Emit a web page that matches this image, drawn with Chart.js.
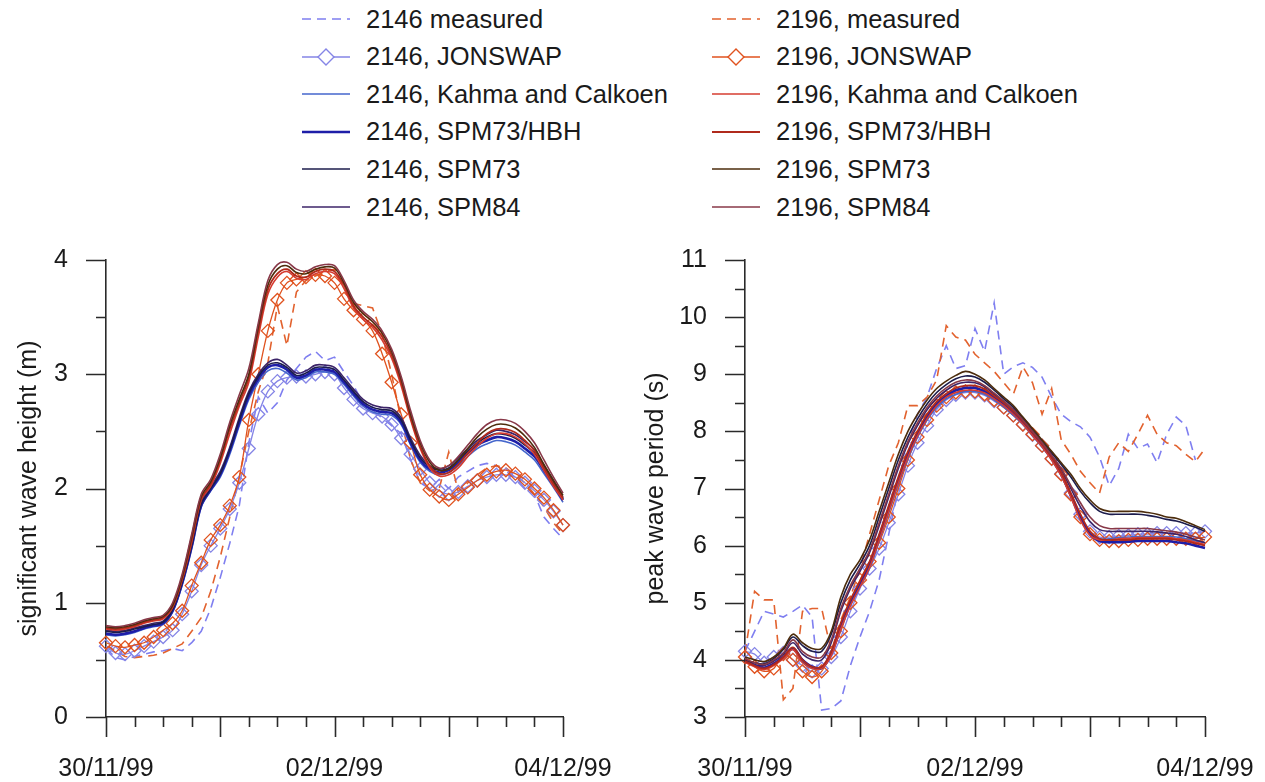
<!DOCTYPE html>
<html>
<head>
<meta charset="utf-8">
<script src="https://cdn.jsdelivr.net/npm/chart.js@4.4.0/dist/chart.umd.min.js"></script>
<style>
body{margin:0;background:#fff;width:1265px;height:782px;overflow:hidden;position:relative;font-family:"Liberation Sans",Arial,sans-serif;}
.item{position:absolute;height:38px;display:flex;align-items:center;font-size:25.5px;color:#1a1a1a;white-space:nowrap;}
.item svg{margin-right:14px;}
canvas{position:absolute;top:230px;}
#hsChart{left:0;}
#tpChart{left:630px;}
</style>
</head>
<body>
<div id="legend"></div>
<canvas id="hsChart" width="630" height="552"></canvas>
<canvas id="tpChart" width="635" height="552"></canvas>
<script>
// time axis: hours after 30/11/99 00:00
const hours = [0,2,4,6,8,10,12,14,16,18,20,22,24,26,28,30,32,34,36,38,40,42,44,46,48,
  50,52,54,56,58,60,62,64,66,68,70,72,74,76,78,80,82,84,86,88,90,92,94,96];
const dateLabels = ['30/11/99', '02/12/99', '04/12/99'];

// significant wave height (m)
const hs2146Measured = [0.6,0.52,0.5,0.53,0.55,0.57,0.58,0.6,0.58,0.65,0.75,0.95,1.22,1.52,1.85,2.4,2.8,2.66,2.75,2.95,3.05,3.15,3.2,3.12,3.15,
  3.02,2.9,2.75,2.68,2.62,2.55,2.48,2.25,2.05,2.0,2.08,2.0,2.1,2.15,2.2,2.22,2.2,2.15,2.1,2.0,1.95,1.75,1.65,1.56];
const hs2146Jonswap = [0.62,0.56,0.55,0.58,0.62,0.66,0.7,0.76,0.9,1.1,1.33,1.5,1.65,1.82,2.05,2.35,2.65,2.85,2.94,2.97,2.98,2.98,3.0,3.02,3.0,
  2.88,2.78,2.7,2.66,2.63,2.56,2.44,2.3,2.17,2.05,1.98,1.95,1.97,2.02,2.07,2.1,2.12,2.12,2.1,2.05,1.98,1.9,1.8,1.68];
const hs2146Kahma = [0.72,0.71,0.72,0.74,0.77,0.79,0.81,0.92,1.16,1.48,1.84,1.98,2.1,2.3,2.55,2.78,2.93,3.03,3.05,3.01,2.95,2.97,3.02,3.02,3.0,
  2.91,2.81,2.72,2.67,2.65,2.64,2.56,2.38,2.23,2.15,2.12,2.14,2.2,2.28,2.35,2.39,2.42,2.41,2.38,2.32,2.25,2.13,2.01,1.88];
const hs2146Hbh = [0.73,0.72,0.73,0.75,0.78,0.8,0.82,0.93,1.17,1.49,1.85,1.99,2.12,2.33,2.58,2.81,2.96,3.06,3.08,3.04,2.97,2.99,3.04,3.04,3.02,
  2.93,2.83,2.74,2.69,2.67,2.66,2.58,2.4,2.25,2.17,2.14,2.16,2.23,2.31,2.38,2.42,2.45,2.44,2.41,2.35,2.28,2.16,2.03,1.9];
const hs2146Spm73 = [0.75,0.74,0.75,0.77,0.79,0.81,0.83,0.94,1.18,1.5,1.86,2.0,2.13,2.34,2.6,2.83,2.98,3.08,3.1,3.06,2.99,3.01,3.06,3.06,3.04,
  2.95,2.85,2.76,2.71,2.69,2.68,2.6,2.42,2.27,2.19,2.16,2.18,2.25,2.33,2.4,2.45,2.48,2.47,2.44,2.38,2.31,2.18,2.05,1.91];
const hs2146Spm84 = [0.76,0.75,0.76,0.78,0.8,0.82,0.84,0.95,1.2,1.52,1.88,2.02,2.15,2.36,2.62,2.85,3.0,3.1,3.13,3.08,3.01,3.03,3.08,3.08,3.06,
  2.97,2.87,2.78,2.73,2.71,2.7,2.62,2.44,2.29,2.2,2.17,2.2,2.27,2.35,2.42,2.47,2.51,2.5,2.47,2.41,2.34,2.2,2.07,1.92];
const hs2196Measured = [0.62,0.58,0.53,0.52,0.53,0.54,0.56,0.6,0.64,0.75,0.87,1.1,1.4,1.75,2.1,2.5,2.85,3.1,3.6,3.25,3.72,3.82,3.86,3.9,3.92,
  3.75,3.62,3.6,3.58,3.35,3.0,2.6,2.25,2.05,1.98,2.0,2.32,1.97,2.05,2.12,2.18,2.2,2.18,2.12,2.05,1.95,1.84,1.7,1.6];
const hs2196Jonswap = [0.65,0.62,0.61,0.63,0.65,0.7,0.76,0.82,0.93,1.15,1.35,1.55,1.68,1.85,2.1,2.6,3.0,3.38,3.65,3.8,3.83,3.85,3.87,3.86,3.8,
  3.66,3.56,3.48,3.38,3.18,2.93,2.65,2.4,2.12,1.99,1.93,1.9,1.95,2.01,2.07,2.12,2.15,2.16,2.13,2.08,2.0,1.92,1.81,1.68];
const hs2196Kahma = [0.77,0.76,0.77,0.79,0.82,0.84,0.86,0.96,1.2,1.53,1.9,2.02,2.22,2.48,2.72,2.93,3.33,3.7,3.85,3.9,3.84,3.83,3.88,3.9,3.88,
  3.75,3.58,3.48,3.41,3.3,3.14,2.9,2.6,2.35,2.18,2.11,2.12,2.18,2.28,2.37,2.44,2.48,2.48,2.45,2.39,2.3,2.16,2.02,1.9];
const hs2196Hbh = [0.78,0.77,0.78,0.8,0.83,0.85,0.87,0.97,1.21,1.55,1.91,2.04,2.25,2.52,2.75,2.97,3.38,3.74,3.88,3.92,3.86,3.85,3.9,3.92,3.9,
  3.78,3.6,3.5,3.43,3.33,3.17,2.93,2.62,2.37,2.2,2.13,2.14,2.21,2.31,2.4,2.48,2.52,2.52,2.49,2.42,2.33,2.18,2.04,1.92];
const hs2196Spm73 = [0.79,0.78,0.79,0.81,0.84,0.86,0.88,0.98,1.23,1.58,1.93,2.06,2.27,2.55,2.78,3.0,3.42,3.78,3.92,3.95,3.89,3.88,3.92,3.94,3.93,
  3.8,3.63,3.53,3.46,3.36,3.2,2.96,2.65,2.4,2.23,2.16,2.17,2.25,2.35,2.45,2.52,2.56,2.56,2.53,2.46,2.36,2.21,2.07,1.94];
const hs2196Spm84 = [0.8,0.79,0.8,0.82,0.85,0.87,0.89,1.0,1.25,1.6,1.95,2.08,2.3,2.58,2.82,3.05,3.45,3.82,3.96,3.98,3.92,3.9,3.94,3.96,3.95,
  3.82,3.65,3.55,3.48,3.38,3.22,2.98,2.68,2.42,2.25,2.18,2.2,2.28,2.38,2.48,2.56,2.6,2.6,2.57,2.5,2.4,2.25,2.1,1.96];

// peak wave period (s)
const tp2146Measured = [4.15,4.5,4.85,4.8,4.75,4.85,4.96,4.75,3.12,3.15,3.28,3.9,4.4,4.85,5.4,6.2,7.0,7.8,8.3,8.6,9.1,9.5,9.1,9.15,9.8,
  9.4,10.25,9.0,9.13,9.2,9.12,8.95,8.6,8.3,8.17,8.08,7.9,7.55,7.05,7.35,7.95,7.7,7.78,7.45,7.95,8.25,8.1,7.5,null];
const tp2146Jonswap = [4.15,4.1,3.95,4.05,4.12,4.0,3.9,3.8,3.85,4.05,4.4,4.85,5.25,5.6,5.95,6.4,6.9,7.4,7.8,8.1,8.38,8.55,8.64,8.68,8.68,
  8.63,8.53,8.42,8.28,8.12,7.94,7.75,7.52,7.26,6.92,6.55,6.25,6.15,6.15,6.17,6.18,6.2,6.2,6.22,6.22,6.22,6.22,6.22,6.25];
const tp2146Kahma = [3.98,3.9,3.85,3.92,4.03,4.18,3.96,3.85,3.85,4.08,4.55,4.95,5.28,5.6,6.08,6.58,7.08,7.52,7.9,8.2,8.42,8.57,8.65,8.7,8.7,
  8.65,8.55,8.43,8.28,8.12,7.92,7.72,7.5,7.22,6.86,6.46,6.2,6.12,6.12,6.14,6.15,6.16,6.16,6.16,6.16,6.15,6.12,6.08,6.05];
const tp2146Hbh = [3.98,3.9,3.86,3.93,4.05,4.2,4.0,3.88,3.86,4.12,4.6,5.0,5.32,5.68,6.15,6.65,7.15,7.6,7.96,8.26,8.48,8.62,8.72,8.76,8.76,
  8.7,8.6,8.48,8.33,8.16,7.96,7.76,7.53,7.25,6.88,6.5,6.2,6.08,6.06,6.06,6.07,6.08,6.08,6.08,6.08,6.06,6.04,6.0,5.96];
const tp2146Spm73 = [4.0,3.95,3.93,4.02,4.18,4.4,4.25,4.15,4.15,4.45,5.0,5.4,5.68,6.0,6.5,7.0,7.5,7.9,8.22,8.48,8.68,8.82,8.92,8.97,8.95,
  8.86,8.72,8.57,8.42,8.22,8.02,7.82,7.62,7.42,7.2,6.95,6.75,6.6,6.55,6.55,6.55,6.55,6.53,6.5,6.46,6.43,6.38,6.32,6.25];
const tp2146Spm84 = [4.0,3.92,3.9,3.98,4.1,4.3,4.1,4.0,4.0,4.3,4.85,5.25,5.55,5.88,6.35,6.85,7.35,7.78,8.1,8.38,8.58,8.72,8.82,8.86,8.85,
  8.78,8.65,8.52,8.37,8.2,8.0,7.8,7.58,7.32,7.0,6.68,6.42,6.28,6.25,6.25,6.25,6.25,6.25,6.24,6.22,6.2,6.16,6.1,6.05];
const tp2196Measured = [4.12,5.2,5.05,5.05,3.3,3.5,4.85,4.9,4.9,4.15,4.7,5.1,5.6,6.2,6.8,7.4,7.8,8.45,8.45,8.6,8.9,9.85,9.65,9.6,9.35,
  9.2,9.05,8.85,8.65,9.13,8.85,8.3,8.75,7.85,7.6,7.3,7.1,6.92,7.55,7.8,7.65,7.95,8.28,7.95,7.8,7.75,7.6,7.47,7.7];
const tp2196Jonswap = [4.05,3.88,3.8,3.85,4.1,4.0,3.8,3.7,3.8,4.12,4.5,5.0,5.4,5.72,6.05,6.5,7.0,7.5,7.9,8.2,8.45,8.6,8.68,8.7,8.7,
  8.65,8.55,8.42,8.28,8.12,7.95,7.75,7.52,7.25,6.9,6.5,6.2,6.1,6.08,6.08,6.1,6.1,6.12,6.12,6.12,6.12,6.12,6.12,6.15];
const tp2196Kahma = [3.96,3.88,3.83,3.9,4.02,4.18,3.95,3.85,3.85,4.08,4.55,4.95,5.28,5.62,6.1,6.6,7.1,7.55,7.92,8.22,8.45,8.6,8.68,8.72,8.72,
  8.67,8.57,8.45,8.3,8.13,7.93,7.73,7.5,7.22,6.85,6.45,6.18,6.1,6.1,6.12,6.13,6.14,6.14,6.14,6.14,6.12,6.1,6.06,6.02];
const tp2196Hbh = [3.98,3.9,3.85,3.92,4.05,4.22,4.0,3.88,3.88,4.15,4.65,5.05,5.38,5.72,6.2,6.7,7.2,7.65,8.0,8.3,8.52,8.66,8.76,8.8,8.8,
  8.74,8.62,8.5,8.35,8.18,7.98,7.78,7.55,7.28,6.92,6.55,6.25,6.12,6.1,6.1,6.1,6.12,6.12,6.12,6.12,6.1,6.08,6.04,6.0];
const tp2196Spm73 = [4.05,4.0,3.97,4.05,4.2,4.45,4.3,4.2,4.2,4.5,5.1,5.5,5.75,6.1,6.6,7.1,7.6,8.0,8.3,8.55,8.75,8.88,8.98,9.05,9.0,
  8.9,8.75,8.6,8.45,8.25,8.05,7.85,7.65,7.45,7.25,7.0,6.8,6.65,6.6,6.6,6.6,6.6,6.58,6.55,6.5,6.48,6.42,6.35,6.28];
const tp2196Spm84 = [4.02,3.95,3.92,4.0,4.12,4.35,4.15,4.05,4.05,4.35,4.9,5.3,5.6,5.92,6.4,6.9,7.4,7.82,8.15,8.42,8.62,8.76,8.86,8.9,8.88,
  8.8,8.67,8.53,8.38,8.2,8.0,7.8,7.58,7.35,7.05,6.75,6.5,6.35,6.3,6.3,6.3,6.3,6.3,6.28,6.26,6.24,6.2,6.15,6.1];

const styles = [
  {key: 'm46', label: '2146 measured', color: '#7f7ff0', width: 1.6, dash: [9, 6], order: 11},
  {key: 'j46', label: '2146, JONSWAP', color: '#8585e6', width: 1.3, marker: true, order: 9},
  {key: 'k46', label: '2146, Kahma and Calkoen', color: '#4466cc', width: 1.6, order: 7},
  {key: 'h46', label: '2146, SPM73/HBH', color: '#1e1ea8', width: 2.6, order: 5},
  {key: 's46', label: '2146, SPM73', color: '#1c1c4c', width: 1.6, order: 4},
  {key: 'p46', label: '2146, SPM84', color: '#3c2468', width: 1.6, order: 6},
  {key: 'm96', label: '2196, measured', color: '#e2622e', width: 1.6, dash: [9, 6], order: 10},
  {key: 'j96', label: '2196, JONSWAP', color: '#e0521e', width: 1.3, marker: true, order: 8},
  {key: 'k96', label: '2196, Kahma and Calkoen', color: '#d63c30', width: 1.6, order: 3},
  {key: 'h96', label: '2196, SPM73/HBH', color: '#b02a1c', width: 1.8, order: 2},
  {key: 's96', label: '2196, SPM73', color: '#4c2c0c', width: 1.6, order: 1},
  {key: 'p96', label: '2196, SPM84', color: '#883848', width: 1.6, order: 0}
];

const hsData = {m46: hs2146Measured, j46: hs2146Jonswap, k46: hs2146Kahma, h46: hs2146Hbh, s46: hs2146Spm73, p46: hs2146Spm84,
  m96: hs2196Measured, j96: hs2196Jonswap, k96: hs2196Kahma, h96: hs2196Hbh, s96: hs2196Spm73, p96: hs2196Spm84};
const tpData = {m46: tp2146Measured, j46: tp2146Jonswap, k46: tp2146Kahma, h46: tp2146Hbh, s46: tp2146Spm73, p46: tp2146Spm84,
  m96: tp2196Measured, j96: tp2196Jonswap, k96: tp2196Kahma, h96: tp2196Hbh, s96: tp2196Spm73, p96: tp2196Spm84};

// legend, two columns
const legend = document.getElementById('legend');
styles.forEach((s, i) => {
	const col = i < 6 ? 0 : 1;
	const row = i % 6;
	const div = document.createElement('div');
	div.className = 'item';
	div.style.left = (col ? 710 : 300) + 'px';
	div.style.top = (row * 37.6) + 'px';
	let svg = '<svg width="52" height="22"><line x1="2" y1="11" x2="50" y2="11" stroke="' + s.color + '" stroke-width="' + s.width + '"' +
		(s.dash ? ' stroke-dasharray="9,6"' : '') + '/>';
	if (s.marker) svg += '<polygon points="26,3 34,11 26,19 18,11" fill="#fff" stroke="' + s.color + '" stroke-width="1.4"/>';
	svg += '</svg>';
	div.innerHTML = svg + '<span>' + s.label + '</span>';
	legend.appendChild(div);
});

function buildSets(source) {
	return styles.map(s => ({
		label: s.label,
		data: hours.map((h, i) => ({x: h, y: source[s.key][i]})),
		borderColor: s.color,
		borderWidth: s.width,
		borderDash: s.dash || [],
		tension: s.dash ? 0 : 0.35,
		pointStyle: 'rectRot',
		pointRadius: s.marker ? 6.5 : 0,
		pointBorderWidth: 1.3,
		pointBorderColor: s.color,
		pointBackgroundColor: 'rgba(255,255,255,0)',
		clip: s.marker ? false : 2,
		order: s.order
	}));
}

// major / minor tick marks drawn from the scales' own ticks
const tickMarks = {
	id: 'tickMarks',
	afterDraw(chart) {
		const ctx = chart.ctx, xs = chart.scales.x, ys = chart.scales.y;
		ctx.save();
		ctx.strokeStyle = '#2a2a2a';
		ctx.lineWidth = 1.6;
		ctx.beginPath();
		xs.ticks.forEach(t => {
			const px = Math.round(xs.getPixelForValue(t.value)) + 0.5;
			const len = t.value % 24 === 0 ? 20 : 10;
			ctx.moveTo(px, xs.top);
			ctx.lineTo(px, xs.top + len);
		});
		ys.ticks.forEach(t => {
			const py = Math.round(ys.getPixelForValue(t.value)) + 0.5;
			const len = Number.isInteger(t.value) ? 20 : 10;
			ctx.moveTo(ys.right, py);
			ctx.lineTo(ys.right - len, py);
		});
		ctx.stroke();
		ctx.restore();
	}
};

function makeChart(id, source, yMin, yMax, yTitle, yWidth, titlePad, padRight) {
	const font = {family: '"Liberation Sans", Arial, sans-serif', size: 25};
	return new Chart(document.getElementById(id), {
		type: 'line',
		data: {datasets: buildSets(source)},
		options: {
			responsive: false,
			animation: false,
			layout: {padding: {top: 30, right: padRight, bottom: 0, left: 0}},
			plugins: {legend: {display: false}, tooltip: {enabled: false}},
			scales: {
				x: {
					type: 'linear',
					min: 0,
					max: 96,
					afterFit: s => { s.height = 65; },
					grid: {display: false, drawTicks: true, tickLength: 37},
					border: {display: true, color: '#2a2a2a', width: 1.6},
					ticks: {
						stepSize: 6,
						autoSkip: false,
						maxRotation: 0,
						padding: 0,
						color: '#1a1a1a',
						font: font,
						callback: v => (v % 48 === 0 ? dateLabels[v / 48] : '')
					}
				},
				y: {
					min: yMin,
					max: yMax,
					afterFit: s => { s.width = yWidth; },
					grid: {display: false, drawTicks: true, tickLength: 38},
					border: {display: true, color: '#2a2a2a', width: 1.6},
					title: {display: true, text: yTitle, color: '#1a1a1a', font: {family: font.family, size: 25}, padding: {top: titlePad, bottom: 0}},
					ticks: {
						stepSize: 0.5,
						autoSkip: false,
						padding: 0,
						color: '#1a1a1a',
						font: font,
						callback: v => (Number.isInteger(v) ? v : '')
					}
				}
			}
		},
		plugins: [tickMarks]
	});
}

makeChart('hsChart', hsData, 0, 4, 'significant wave height (m)', 106, 14, 67);
makeChart('tpChart', tpData, 3, 11, 'peak wave period (s)', 115, 11, 60);
</script>
</body>
</html>
